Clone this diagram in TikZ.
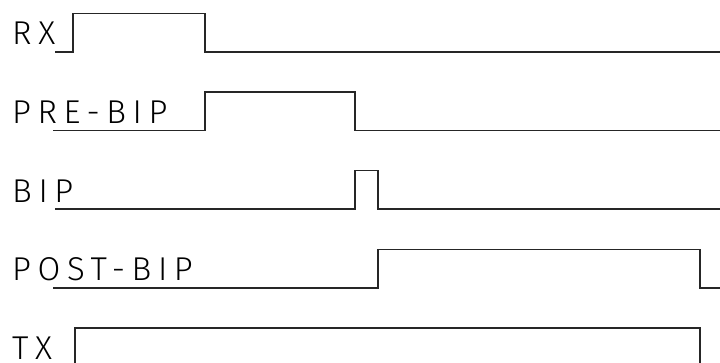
\documentclass[tikz,border=0pt]{standalone}
\usepackage{fontspec}
\newfontfamily\sigfont{Fira Sans Light}[LetterSpace=20]
\begin{document}
\begin{tikzpicture}[x=1pt,y=-1pt,
    wave/.style={line width=1.5pt, black!85},
    siglabel/.style={anchor=base west, inner sep=0pt, font=\sigfont\fontsize{33}{33}\selectfont}]
  \useasboundingbox (0,0) rectangle (720,363);
  \clip (0,0) rectangle (720,363);
  % one row per signal: start, rise and fall of the pulse
  \foreach \i/\sig/\sx/\rx/\fx in {0/RX/55/73/205, 1/PRE-BIP/53/205/355, 2/BIP/55/355/378, 3/POST-BIP/53/378/700, 4/TX/75/75/700}{
    \pgfmathsetmacro\lo{52+78.6*\i}
    \pgfmathsetmacro\hi{\lo-38.5}
    \node[siglabel] (sig\i) at (12,{\lo-7}) {\sig};
    \draw[wave] (\sx,\lo) -- (\rx,\lo) -- (\rx,\hi) -- (\fx,\hi) -- (\fx,\lo) -- (720,\lo);
  }
\end{tikzpicture}
\end{document}
